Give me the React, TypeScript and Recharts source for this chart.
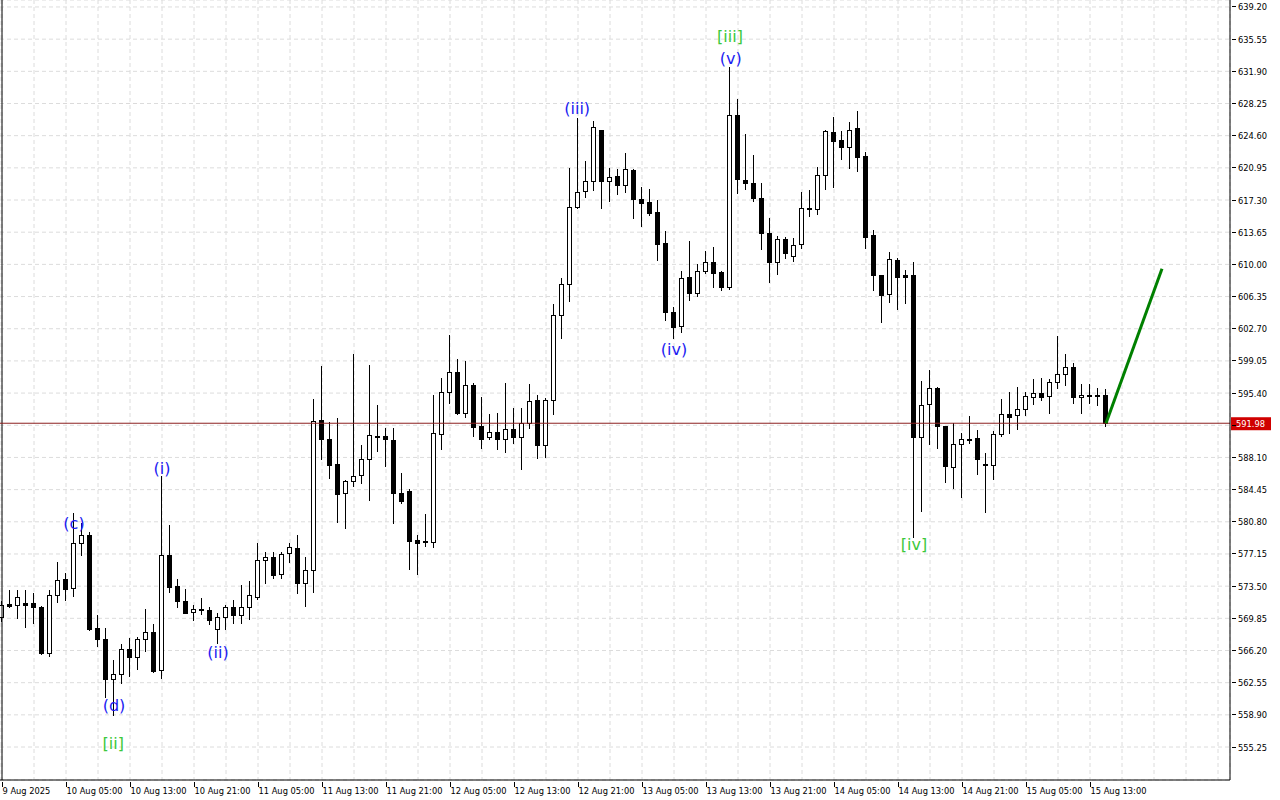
import React from "react";
import {
  ComposedChart,
  Bar,
  Scatter,
  XAxis,
  YAxis,
  CartesianGrid,
  ReferenceLine,
} from "recharts";

// hourly bars, 9 Aug 21:00 -> 15 Aug 15:00
const opens = [
  570.03, 571.47, 571.36, 571.55, 571.55, 571.09, 565.87, 572.5, 574.27, 573.25,
  578.36, 579.34, 568.75, 567.46, 562.92, 563.49, 566.32, 565.49, 567.46, 568.25,
  563.94, 576.99, 573.51, 571.81, 570.56, 570.86, 570.79, 568.6, 570.03, 571.09,
  570.18, 571.17, 572.3, 576.42, 576.76, 574.87, 577.22, 577.78, 573.81, 575.32,
  592.34, 590.19, 587.35, 584.1, 585.38, 586.07, 587.88, 590.45, 590.53, 590.08,
  584.03, 584.26, 578.73, 578.6, 578.47, 590.72, 595.49, 597.76, 593.11, 596.32,
  591.67, 590.38, 590.95, 590.15, 591.32, 590.45, 591.97, 594.61, 589.51, 594.58,
  604.22, 607.74, 616.54, 618.28, 619.42, 625.24, 619.49, 620.02, 619.04, 620.7,
  617.41, 617.07, 615.94, 612.38, 604.6, 603.0, 608.6, 606.7, 609.22, 610.27,
  609.1, 607.47, 626.91, 619.57, 619.2, 617.5, 613.52, 610.23, 612.84, 610.95,
  612.27, 616.43, 616.24, 620.1, 624.98, 624.11, 623.28, 625.43, 622.29, 613.29,
  608.75, 606.6, 610.5, 608.8, 608.79, 590.45, 594.12, 595.93, 591.66, 587.05,
  589.58, 590.2, 590.26, 587.3, 587.2, 590.72, 593.02, 592.87, 593.55, 594.99,
  595.37, 595.05, 596.68, 597.56, 598.41, 594.94, 595.21, 595.2, 595.21,
];
const highs = [
  571.8, 573.06, 573.06, 573.06, 572.68, 571.24, 573.06, 576.24, 575.03, 581.76,
  580.62, 579.68, 570.22, 568.71, 565.11, 566.93, 567.57, 567.76, 570.86, 569.2,
  585.99, 580.43, 574.3, 573.17, 571.36, 572.11, 571.09, 570.41, 571.36, 571.92,
  573.62, 574.08, 578.43, 577.41, 577.41, 577.41, 578.43, 579.3, 576.76, 594.69,
  598.47, 592.15, 592.53, 585.54, 599.83, 589.51, 598.58, 594.05, 591.4, 591.4,
  586.3, 584.48, 579.3, 581.68, 595.19, 597.15, 602.0, 599.23, 599.04, 596.51,
  595.0, 593.03, 593.1, 596.51, 593.67, 593.67, 596.43, 595.14, 594.8, 605.51,
  608.46, 620.9, 626.56, 621.72, 626.26, 625.3, 620.89, 620.82, 622.6, 620.8,
  618.74, 618.55, 617.3, 613.78, 605.2, 609.2, 612.65, 610.0, 611.5, 611.97,
  609.2, 632.43, 628.76, 624.76, 622.41, 619.2, 615.22, 613.25, 613.14, 612.95,
  618.17, 618.43, 621.0, 625.2, 626.68, 625.13, 626.11, 627.43, 622.71, 613.9,
  608.8, 611.36, 610.68, 609.36, 610.23, 596.77, 598.0, 596.12, 591.7, 591.96,
  590.9, 592.8, 591.21, 588.56, 591.13, 594.72, 595.48, 596.12, 595.56, 597.0,
  597.1, 596.98, 601.89, 599.84, 598.8, 596.48, 596.48, 596.02, 595.9,
];
const lows = [
  569.5, 571.09, 569.85, 568.9, 569.36, 565.8, 565.6, 571.74, 571.92, 572.42,
  577.03, 568.52, 566.7, 560.95, 558.87, 562.47, 563.3, 564.13, 566.17, 563.79,
  563.11, 572.87, 571.09, 570.41, 569.65, 570.3, 569.2, 567.0, 568.6, 569.28,
  569.35, 569.8, 572.07, 573.81, 574.38, 574.38, 576.27, 572.75, 571.28, 572.87,
  587.88, 585.72, 580.81, 580.13, 584.89, 585.23, 583.27, 588.86, 587.13, 580.7,
  582.9, 575.48, 574.88, 578.0, 577.98, 589.1, 594.32, 593.0, 592.73, 590.53,
  589.21, 590.15, 589.02, 588.75, 589.77, 586.75, 591.4, 588.07, 588.19, 593.03,
  601.69, 605.88, 616.4, 617.68, 618.43, 616.43, 617.22, 617.98, 618.25, 615.3,
  614.35, 615.6, 610.49, 603.69, 601.6, 602.3, 606.0, 606.4, 609.0, 607.4,
  607.1, 607.24, 618.07, 618.52, 617.23, 611.75, 608.03, 608.87, 610.68, 610.42,
  611.82, 615.52, 615.67, 618.51, 618.81, 621.95, 620.97, 620.63, 611.89, 607.09,
  603.5, 605.73, 604.97, 605.65, 579.1, 582.05, 589.58, 589.13, 585.35, 584.66,
  583.64, 589.7, 586.21, 581.94, 585.61, 590.53, 590.9, 591.36, 592.91, 594.12,
  594.61, 593.12, 596.02, 596.29, 594.24, 593.16, 594.24, 594.0, 591.66,
];
const closes = [
  571.36, 571.25, 572.23, 571.4, 571.09, 565.87, 572.46, 574.16, 573.14, 578.36,
  579.26, 568.68, 567.46, 562.92, 563.49, 566.32, 565.49, 567.46, 568.25, 563.87,
  576.99, 573.43, 571.85, 570.48, 570.86, 570.8, 569.65, 570.03, 571.09, 570.18,
  571.09, 572.45, 576.42, 576.76, 574.76, 577.14, 577.9, 573.81, 575.32, 592.27,
  590.15, 587.24, 583.95, 585.38, 585.99, 587.88, 590.6, 590.5, 590.15, 584.1,
  583.2, 578.66, 578.43, 578.5, 590.84, 595.53, 597.76, 593.11, 596.28, 591.59,
  590.23, 590.95, 590.15, 591.29, 590.38, 591.97, 594.5, 589.51, 594.61, 604.22,
  607.74, 616.55, 618.17, 619.42, 625.54, 619.49, 619.95, 619.04, 620.78, 617.45,
  617.0, 615.86, 612.31, 604.63, 602.9, 608.5, 606.7, 609.25, 610.27, 609.06,
  607.47, 626.91, 619.65, 619.2, 617.5, 613.53, 610.23, 612.84, 611.25, 612.16,
  616.35, 616.24, 620.1, 625.09, 624.03, 623.28, 625.2, 622.22, 613.14, 608.83,
  606.56, 610.57, 608.6, 608.6, 590.45, 594.0, 595.93, 591.66, 587.16, 589.58,
  590.15, 590.1, 587.88, 587.2, 590.72, 592.98, 592.72, 593.55, 595.06, 595.37,
  594.99, 596.68, 597.56, 598.41, 594.94, 595.21, 595.05, 595.05, 591.98,
];

// one label every 8 bars
const timeLabels = [
  "9 Aug 2025", "10 Aug 05:00", "10 Aug 13:00", "10 Aug 21:00", "11 Aug 05:00",
  "11 Aug 13:00", "11 Aug 21:00", "12 Aug 05:00", "12 Aug 13:00", "12 Aug 21:00",
  "13 Aug 05:00", "13 Aug 13:00", "13 Aug 21:00", "14 Aug 05:00", "14 Aug 13:00",
  "14 Aug 21:00", "15 Aug 05:00", "15 Aug 13:00",
];

const priceTicks = [
  555.25, 558.9, 562.55, 566.2, 569.85, 573.5, 577.15, 580.8, 584.45, 588.1,
  591.75, 595.4, 599.05, 602.7, 606.35, 610.0, 613.65, 617.3, 620.95, 624.6,
  628.25, 631.9, 635.55, 639.2,
];

const lastPrice = 591.98;
const forecastFrom = { i: 138, price: 591.98 };
const forecastTo = { i: 145, price: 609.5 };

const BLUE = "#1c1cf2";
const GREEN = "#3cc83c";
const waveLabels = [
  { i: 9, price: 580.65, text: "(c)", color: BLUE },
  { i: 14, price: 559.96, text: "(d)", color: BLUE },
  { i: 13.9, price: 555.6, text: "[ii]", color: GREEN },
  { i: 20, price: 586.9, text: "(i)", color: BLUE },
  { i: 27, price: 566.02, text: "(ii)", color: BLUE },
  { i: 71.9, price: 627.63, text: "(iii)", color: BLUE },
  { i: 91, price: 635.8, text: "[iii]", color: GREEN },
  { i: 91.1, price: 633.3, text: "(v)", color: BLUE },
  { i: 84, price: 600.4, text: "(iv)", color: BLUE },
  { i: 114, price: 578.28, text: "[iv]", color: GREEN },
];

const data = opens.map((o, i) => ({
  i,
  open: o,
  high: highs[i],
  low: lows[i],
  close: closes[i],
}));

const xTicks = Array.from({ length: 39 }, (_, k) => k * 4);
const FONT = "DejaVu Sans";
const AXIS_FONT = 8.3;

function Candle(props: any) {
  const { x, y, width, height, payload } = props;
  if (!payload || payload.high == null) return null;
  const { open, close, high, low } = payload;
  const top = Math.min(y, y + height);
  const h = Math.abs(height);
  const k = high > low ? h / (high - low) : 0;
  const py = (v: number) => top + (high - v) * k;
  const cx = Math.floor(x + width / 2) + 0.5;
  const bTop = Math.round(py(Math.max(open, close))) + 0.5;
  const bBot = Math.round(py(Math.min(open, close))) + 0.5;
  const up = close >= open;
  return (
    <g shapeRendering="crispEdges">
      <line
        x1={cx}
        x2={cx}
        y1={Math.round(top)}
        y2={Math.round(top + h) + 1}
        stroke="#000"
      />
      <rect
        x={cx - 2}
        y={bTop}
        width={4}
        height={Math.max(bBot - bTop, 1)}
        fill={up ? "#fff" : "#000"}
        stroke="#000"
      />
    </g>
  );
}

function TimeTick(props: any) {
  const { x, y, payload } = props;
  const v = payload.value;
  if (v % 8 !== 0 || !timeLabels[v / 8]) return null;
  const px = Math.floor(x) + 0.5;
  return (
    <g>
      <line x1={px} x2={px} y1={y} y2={y + 5} stroke="#000" shapeRendering="crispEdges" />
      <text x={px} y={y + 12} fontSize={AXIS_FONT} fontFamily={FONT} fill="#000">
        {timeLabels[v / 8]}
      </text>
    </g>
  );
}

function PriceTick(props: any) {
  const { x, y, payload } = props;
  const py = Math.floor(y) + 0.5;
  const hidden = Math.abs(payload.value - lastPrice) < 1;
  return (
    <g>
      <line x1={x} x2={x + 4} y1={py} y2={py} stroke="#000" shapeRendering="crispEdges" />
      {!hidden && (
        <text x={x + 6} y={py + 3.5} fontSize={AXIS_FONT} fontFamily={FONT} fill="#000">
          {payload.value.toFixed(2)}
        </text>
      )}
    </g>
  );
}

function PriceTag(props: any) {
  const { viewBox } = props;
  const x = viewBox.x + viewBox.width;
  const y = viewBox.y;
  return (
    <g>
      <rect x={x + 1} y={y - 6} width={40} height={13} fill="#d00000" />
      <text x={x + 6} y={y + 3.5} fontSize={AXIS_FONT} fontFamily={FONT} fill="#fff">
        {lastPrice.toFixed(2)}
      </text>
    </g>
  );
}

function WaveText(props: any) {
  const { cx, cy, payload } = props;
  return (
    <text
      x={cx}
      y={cy}
      textAnchor="middle"
      dominantBaseline="central"
      fontSize={16}
      fontFamily={FONT}
      fill={payload.color}
    >
      {payload.text}
    </text>
  );
}

export default function App() {
  return (
    <div
      style={{
        position: "absolute",
        left: 0,
        top: 0,
        width: 1280,
        height: 800,
        background: "#fff",
      }}
    >
      <ComposedChart
        width={1280}
        height={800}
        data={data}
        margin={{ top: 0, right: 0, bottom: 0, left: 0 }}
      >
        <CartesianGrid stroke="#dcdcdc" strokeDasharray="4 3" />
        <XAxis
          dataKey="i"
          type="number"
          domain={[-0.25, 153.5]}
          allowDataOverflow
          ticks={xTicks}
          interval={0}
          height={20}
          tick={<TimeTick />}
          tickLine={false}
          tickSize={0}
          axisLine={{ stroke: "#000" }}
        />
        <YAxis
          orientation="right"
          type="number"
          domain={[551.51, 639.99]}
          allowDataOverflow
          ticks={priceTicks}
          interval={0}
          width={50}
          tick={<PriceTick />}
          tickLine={false}
          tickSize={0}
          axisLine={{ stroke: "#000" }}
        />
        <ReferenceLine x={0} stroke="#000" strokeWidth={1} />
        <Bar
          dataKey={(d: any) => [d.low, d.high]}
          barSize={6}
          shape={<Candle />}
          isAnimationActive={false}
        />
        <ReferenceLine
          y={lastPrice}
          stroke="#8c2020"
          strokeWidth={1}
          label={<PriceTag />}
        />
        <ReferenceLine
          segment={[
            { x: forecastFrom.i, y: forecastFrom.price },
            { x: forecastTo.i, y: forecastTo.price },
          ]}
          stroke="#008000"
          strokeWidth={3}
        />
        <Scatter
          data={waveLabels}
          dataKey="price"
          shape={<WaveText />}
          isAnimationActive={false}
        />
      </ComposedChart>
    </div>
  );
}
